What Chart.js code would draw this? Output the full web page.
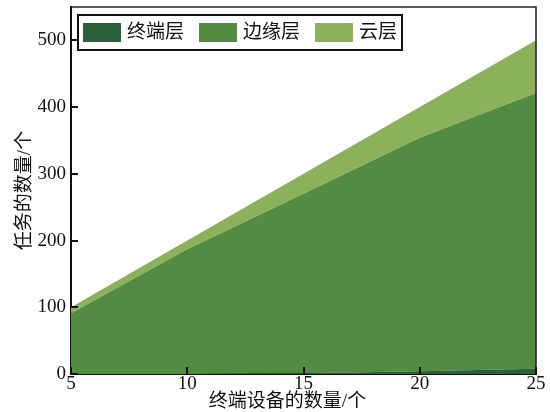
<!DOCTYPE html>
<html>
<head>
<meta charset="utf-8">
<script src="https://cdn.jsdelivr.net/npm/chart.js@4/dist/chart.umd.min.js"></script>
<style>
  html, body { margin: 0; padding: 0; background: #ffffff; }
  #wrap { width: 550px; height: 412px; }
</style>
</head>
<body>
<div id="wrap"><canvas id="c" width="550" height="412"></canvas></div>
<script>
// Number of terminal devices (x) and tasks handled by each layer (stacked)
const devices   = [5, 10, 15, 20, 25];
const terminal  = [0, 0, 1, 4, 8];
const edge      = [91, 187, 269, 350, 413];
const cloud     = [9, 13, 30, 46, 79];
const layerNames = ['终端层', '边缘层', '云层'];
const layerColors = ['#2b613a', '#548b43', '#8bb15a'];
const xTicks = [5, 10, 15, 20, 25];
const yTicks = [0, 100, 200, 300, 400, 500];
const xTitle = '终端设备的数量/个';
const yTitle = '任务的数量/个';

const FONT = "'Liberation Serif', 'Noto Sans CJK SC', serif";

const toPoints = arr => arr.map((v, i) => ({ x: devices[i], y: v }));

// Inward tick marks, frame on top/right, x-axis title and a boxed legend inside the plot
const framePlugin = {
  id: 'frame',
  afterDatasetsDraw(chart) {
    const { ctx, chartArea: a, scales } = chart;
    ctx.save();
    ctx.strokeStyle = '#222';
    ctx.lineWidth = 1.5;
    ctx.beginPath();
    ctx.moveTo(a.left, a.top);
    ctx.lineTo(a.right, a.top);
    ctx.lineTo(a.right, a.bottom);
    ctx.stroke();

    ctx.lineWidth = 2;
    ctx.strokeStyle = '#111';
    ctx.beginPath();
    yTicks.forEach(v => {
      const y = Math.round(scales.y.getPixelForValue(v));
      ctx.moveTo(a.left, y);
      ctx.lineTo(a.left + 7, y);
    });
    xTicks.forEach(v => {
      const x = Math.round(scales.x.getPixelForValue(v));
      ctx.moveTo(x, a.bottom);
      ctx.lineTo(x, a.bottom - 7);
    });
    ctx.stroke();

    ctx.font = "19px " + FONT;
    ctx.fillStyle = '#111';

    // x-axis title, set slightly left of the plot centre
    ctx.textAlign = 'center';
    ctx.textBaseline = 'middle';
    ctx.fillText(xTitle, (a.left + a.right) / 2 - 16, scales.x.bottom - 10);

    // legend
    ctx.textBaseline = 'middle';
    ctx.textAlign = 'left';
    const boxL = a.left + 7, boxT = a.top + 8, boxH = 35;
    const cy = boxT + boxH / 2;
    let x = boxL + 5;
    chart.data.datasets.forEach((ds, i) => {
      ctx.fillStyle = ds.backgroundColor;
      ctx.fillRect(x, cy - 9.5, 38, 19);
      x += 38 + 6;
      ctx.fillStyle = '#111';
      ctx.fillText(ds.label, x, cy + 1);
      x += ctx.measureText(ds.label).width;
      if (i < chart.data.datasets.length - 1) x += 15;
    });
    x += 5;
    ctx.lineWidth = 2;
    ctx.strokeStyle = '#111';
    ctx.strokeRect(boxL, boxT, x - boxL, boxH);
    ctx.restore();
  }
};

const series = [terminal, edge, cloud];

new Chart(document.getElementById('c'), {
  type: 'line',
  data: {
    datasets: series.map((arr, i) => ({
      label: layerNames[i],
      data: toPoints(arr),
      backgroundColor: layerColors[i],
      borderColor: layerColors[i],
      borderWidth: 0,
      pointRadius: 0,
      tension: 0,
      fill: i === 0 ? 'origin' : '-1'
    }))
  },
  options: {
    responsive: false,
    animation: false,
    devicePixelRatio: 1,
    layout: { padding: { top: 7, right: 14, left: 0, bottom: 0 } },
    plugins: {
      legend: { display: false },
      tooltip: { enabled: false }
    },
    scales: {
      x: {
        type: 'linear',
        min: 5,
        max: 25,
        afterBuildTicks: s => { s.ticks = xTicks.map(v => ({ value: v })); },
        grid: { display: false, drawTicks: false },
        border: { display: true, color: '#111', width: 2 },
        ticks: {
          padding: 1,
          color: '#111',
          font: { family: FONT, size: 19, lineHeight: 1 },
          maxRotation: 0
        },
        title: { display: false },
        afterFit: s => { s.height = 38; s.paddingLeft = 0; s.paddingRight = 0; }
      },
      y: {
        stacked: true,
        min: 0,
        max: 550,
        afterBuildTicks: s => { s.ticks = yTicks.map(v => ({ value: v })); },
        grid: { display: false, drawTicks: false },
        border: { display: true, color: '#111', width: 2 },
        ticks: {
          padding: 5,
          color: '#111',
          font: { family: FONT, size: 19, lineHeight: 1 }
        },
        title: {
          display: true,
          text: yTitle,
          color: '#111',
          font: { family: FONT, size: 19, lineHeight: 1 },
          padding: { top: 16, bottom: 0 }
        },
        afterFit: s => { s.width = 71; s.paddingTop = 0; s.paddingBottom = 0; }
      }
    }
  },
  plugins: [framePlugin]
});
</script>
</body>
</html>
